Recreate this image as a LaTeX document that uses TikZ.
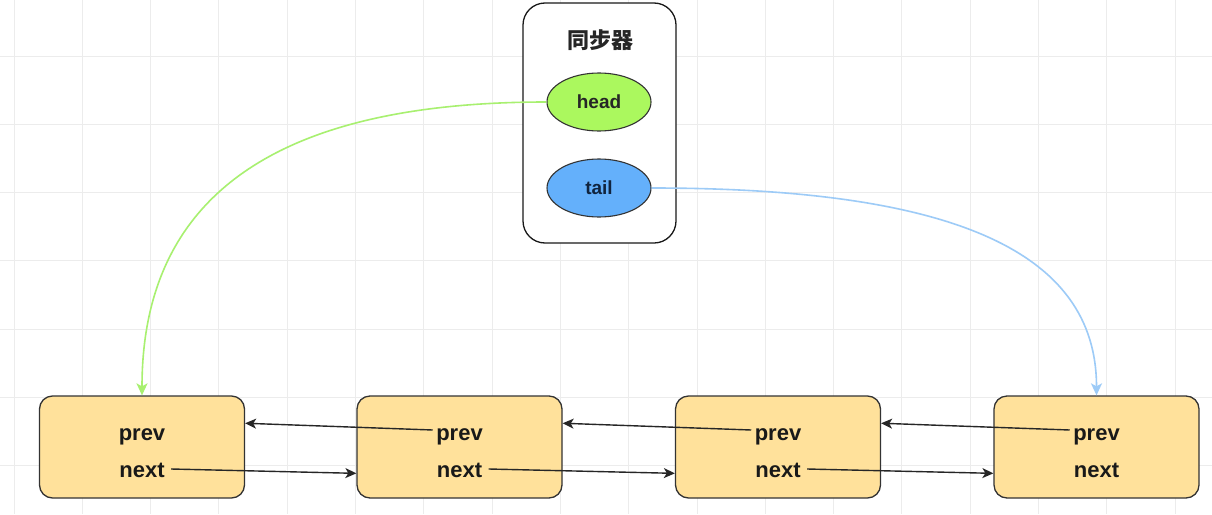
\documentclass[tikz,border=0pt]{standalone}
\usepackage{fontspec}
\setmainfont{Liberation Sans}
\newfontfamily\cjk{Noto Sans CJK SC}
\usetikzlibrary{shapes.geometric,calc,arrows.meta}
\definecolor{gridc}{HTML}{ECECEC}
\definecolor{boxfill}{HTML}{FFE19B}
\definecolor{boxline}{HTML}{333333}
\definecolor{headfill}{HTML}{ABF85E}
\definecolor{tailfill}{HTML}{64B0FB}
\definecolor{greenline}{HTML}{A8F070}
\definecolor{blueline}{HTML}{9DCBF7}
\definecolor{taildark}{HTML}{10243E}
\tikzset{
  listnode/.style={draw=boxline, line width=1.3pt, fill=boxfill, rounded corners=13pt,
    minimum width=205pt, minimum height=102pt, inner sep=0pt},
  fieldtext/.style={font=\bfseries\fontsize{22}{26}\selectfont, text=black!90, anchor=base},
  ptr/.style={line width=1.4pt, draw=black!85, -{Stealth[length=11pt,width=10pt,inset=3pt]}},
  ovalnode/.style={ellipse, draw=boxline, line width=1.1pt, minimum width=104pt, minimum height=58pt,
    font=\bfseries\fontsize{19}{22}\selectfont},
}
\begin{document}
\begin{tikzpicture}[x=1pt,y=-1pt]
\useasboundingbox (0,0) rectangle (1212,514);
\fill[white] (0,0) rectangle (1212,514);
% grid
\foreach \k in {0,...,17} { \draw[gridc, line width=1pt] ({14+68.3*\k},0) -- ({14+68.3*\k},514); }
\foreach \k in {0,...,6} { \draw[gridc, line width=1pt] (0,{56+68.3*\k}) -- (1212,{56+68.3*\k}); }

% synchronizer box
\node[draw=black!90, line width=1.3pt, rounded corners=22pt, fill=white,
  minimum width=153pt, minimum height=240pt, inner sep=0pt] (sync) at (599.5,123) {};
\node[font=\cjk\bfseries\fontsize{22}{26}\selectfont, text=black!85] (title) at (600,40) {同步器};
\node[ovalnode, fill=headfill, text=black!85] (head) at (599,102) {head};
\node[ovalnode, fill=tailfill, text=taildark] (tail) at (599,188) {tail};

% list nodes
\foreach \i/\cx in {1/142, 2/459.5, 3/778, 4/1096.5} {
  \node[listnode] (b\i) at (\cx,447) {};
  \node[fieldtext] (p\i) at (\cx,440) {prev};
  \node[fieldtext] (n\i) at (\cx,477) {next};
}

% prev pointers
\foreach \a/\b in {2/1, 3/2, 4/3} {
  \draw[ptr] ($(p\a.base west)+(0,-10)$) -- ($(b\b.north east)!0.27!(b\b.south east)$);
}
% next pointers
\foreach \a/\b in {1/2, 2/3, 3/4} {
  \draw[ptr] ($(n\a.base east)+(3,-8)$) -- ($(b\b.north west)!0.755!(b\b.south west)$);
}

% head / tail curves
\draw[greenline, line width=1.6pt, -{Stealth[length=12pt,width=11pt,inset=3pt]}]
  (head.west) .. controls (300,102) and (142,180) .. (b1.north);
\draw[blueline, line width=1.6pt, -{Stealth[length=12pt,width=11pt,inset=3pt]}]
  (tail.east) .. controls (950,188) and (1096.5,250) .. (b4.north);
\end{tikzpicture}
\end{document}
